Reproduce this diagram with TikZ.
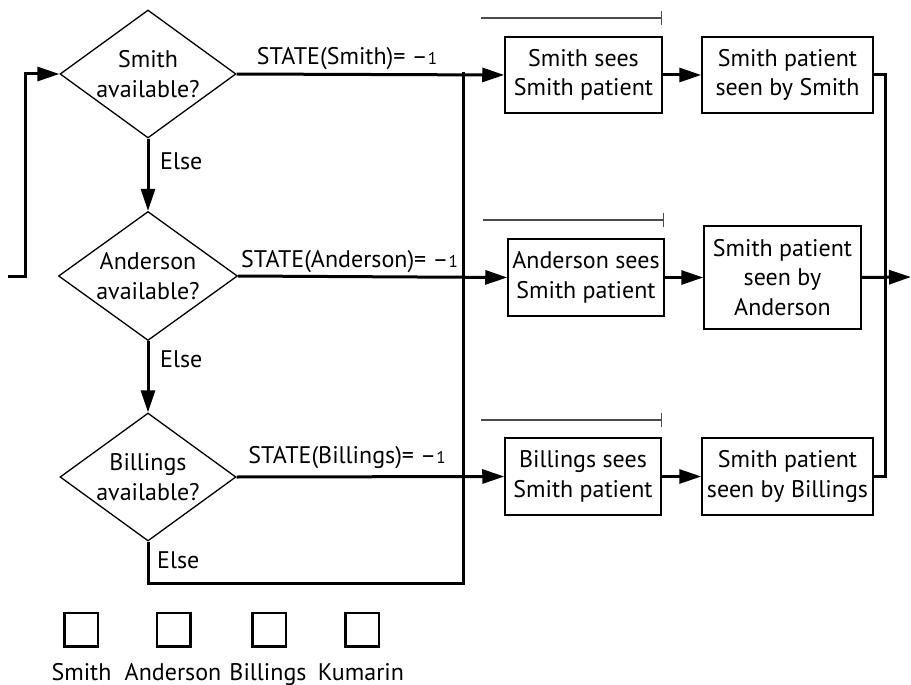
\documentclass[tikz,border=0pt]{standalone}
\usepackage{fontspec}
\setmainfont{PT Sans}
\usetikzlibrary{shapes.geometric,arrows.meta}
\newcommand\osfone{{\fontsize{17}{17}\selectfont 1}}
\begin{document}
\begin{tikzpicture}[x=1pt,y=-1pt,
  every node/.style={font=\fontsize{24}{29.5}\selectfont},
  dia/.style={diamond, draw, line width=1.3pt, aspect=1.375, minimum width=176pt, minimum height=128pt, inner sep=-6pt, align=center},
  box/.style={rectangle, draw, line width=1.5pt, inner sep=0pt, align=center},
  flow/.style={line width=3pt, -{Triangle[length=22pt,width=14pt]}},
  conn/.style={line width=3pt, line join=miter},
  bar/.style={draw=black!70, line width=1.3pt, -{Bar[width=14pt]}},
  lbl/.style={inner sep=0pt, anchor=base},
  leg/.style={rectangle, draw, line width=2.5pt, minimum size=33.5pt, inner sep=0pt}
]
\useasboundingbox[fill=white] (0,0) rectangle (911,685);

% decisions
\node[dia] (d1) at (148,74) {Smith\\available?};
\node[dia, minimum width=179pt, minimum height=129pt] (d2) at (148,276) {Anderson\\available?};
\node[dia] (d3) at (148,477) {Billings\\available?};

% first boxes
\node[box, minimum width=157pt, minimum height=76pt] (b1) at (583.5,75) {Smith sees\\Smith patient};
\node[box, minimum width=156pt, minimum height=77pt] (b2) at (586,277.5) {Anderson sees\\Smith patient};
\node[box, minimum width=156pt, minimum height=77pt] (b3) at (583,476.5) {Billings sees\\Smith patient};

% second boxes
\node[box, minimum width=171pt, minimum height=76pt] (c1) at (787.5,75) {Smith patient\\seen by Smith};
\node[box, minimum width=157pt, minimum height=103pt] (c2) at (782.5,277.5) {Smith patient\\seen by\\Anderson};
\node[box, minimum width=171pt, minimum height=77pt] (c3) at (787.5,476.5) {Smith patient\\seen by Billings};

% coordinates
\coordinate (in) at (8,276);
\coordinate (jt) at (463,72);
\coordinate (jb) at (463,583);
\coordinate (out) at (911,277);

% entry
\draw[flow] (in) -- ++(17,0) |- (d1.west);

% else arrows
\draw[flow] (d1.south) -- (d2.north);
\draw[flow] (d2.south) -- (d3.north);

% yes arrows
\draw[flow] (d1.east) -- (b1.west);
\draw[flow] (d2.east) -- (b2.west);
\draw[flow] (d3.east) -- (b3.west);

% junction line
\draw[conn] (d3.south) |- (jb) -- (jt);

% box to box
\draw[flow] (b1.east) -- (c1.west);
\draw[flow] (b2.east) -- (c2.west);
\draw[flow] (b3.east) -- (c3.west);

% collector
\draw[conn] (c1.east) -- ++(12,0) |- (c3.east);
\draw[flow] (c2.east) -- (out);

% gray bars
\coordinate (t1a) at (481,18);  \coordinate (t1b) at (662,18);
\coordinate (t2a) at (483,220); \coordinate (t2b) at (664,220);
\coordinate (t3a) at (481,420); \coordinate (t3b) at (662,420);
\draw[bar] (t1a) -- (t1b);
\draw[bar] (t2a) -- (t2b);
\draw[bar] (t3a) -- (t3b);

% labels
\node[lbl] (s1) at (347,65) {STATE(Smith)= –\osfone};
\node[lbl] (s2) at (349.5,267) {STATE(Anderson)= –\osfone};
\node[lbl] (s3) at (347,463) {STATE(Billings)= –\osfone};
\node[lbl, anchor=base west] (e1) at (160,169) {Else};
\node[lbl, anchor=base west] (e2) at (160,367) {Else};
\node[lbl, anchor=base west] (e3) at (157,568) {Else};

% legend
\node[leg] (q1) at (81,629.5) {};
\node[leg] (q2) at (173.5,629.5) {};
\node[leg] (q3) at (269,629.5) {};
\node[leg] (q4) at (362,629.5) {};
\node[lbl] (l1) at (81.5,680) {Smith};
\node[lbl] (l2) at (173,680) {Anderson};
\node[lbl] (l3) at (268,680) {Billings};
\node[lbl] (l4) at (361,680) {Kumarin};
\end{tikzpicture}
\end{document}
